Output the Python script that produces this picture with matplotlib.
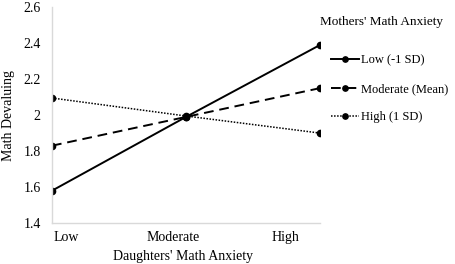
import matplotlib.pyplot as plt
import matplotlib.transforms as mtransforms

categories = ['Low', 'Moderate', 'High']
series_names = ['Low (-1 SD)', 'Moderate (Mean)', 'High (1 SD)']
low_vals = [1.58, 1.99, 2.39]
mod_vals = [1.83, 1.99, 2.15]
high_vals = [2.095, 1.995, 1.90]

plt.rcParams['font.family'] = ['Liberation Serif', 'DejaVu Serif']
plt.rcParams['font.size'] = 9.5

fig = plt.figure(figsize=(4.56, 2.64), dpi=100)
ax = fig.add_axes([0.114, 0.155, 0.588, 0.818])

x = range(len(categories))
ax.plot(x, low_vals, color='black', lw=1.4, linestyle='-', marker='o', ms=4.5, label=series_names[0])
ax.plot(x, mod_vals, color='black', lw=1.4, linestyle=(0, (5, 3)), marker='o', ms=4.5, label=series_names[1])
ax.plot(x, high_vals, color='black', lw=1.1, linestyle=(0, (1, 1)), marker='o', ms=4.5, label=series_names[2])

ax.set_xlim(0, 2)
ax.set_ylim(1.4, 2.6)
ax.set_yticks([1.4, 1.6, 1.8, 2.0, 2.2, 2.4, 2.6])
ax.set_yticklabels(['1.4', '1.6', '1.8', '2', '2.2', '2.4', '2.6'], fontsize=10)
ax.set_xticks(list(x))
ax.set_xticklabels(categories, fontsize=10)
ax.tick_params(axis='x', length=0, pad=6)
ax.tick_params(axis='y', length=0, pad=8)

# Excel-ish label placement: shift the category labels inward
shifts = [14, -13, -35]
for lbl, dx in zip(ax.get_xticklabels(), shifts):
    lbl.set_transform(lbl.get_transform() + mtransforms.ScaledTranslation(dx / 100, 0, fig.dpi_scale_trans))

for side in ['top', 'right']:
    ax.spines[side].set_visible(False)
for side in ['left', 'bottom']:
    ax.spines[side].set_color('#d9d9d9')
    ax.spines[side].set_linewidth(1.0)

ax.set_ylabel('Math Devaluing', labelpad=6, fontsize=10)
ax.set_xlabel("Daughters' Math Anxiety", fontsize=10)
ax.xaxis.set_label_coords(0.49, -0.125)

fig.text(0.972, 0.915, "Mothers' Math Anxiety", ha='right', va='center')
leg = fig.legend(loc='upper left', bbox_to_anchor=(0.716, 0.812), frameon=False, fontsize=9,
                 handlelength=2.2, handletextpad=0.15, labelspacing=1.3, borderaxespad=0,
                 markerscale=0.85)

fig.savefig('out.png', dpi=100)
